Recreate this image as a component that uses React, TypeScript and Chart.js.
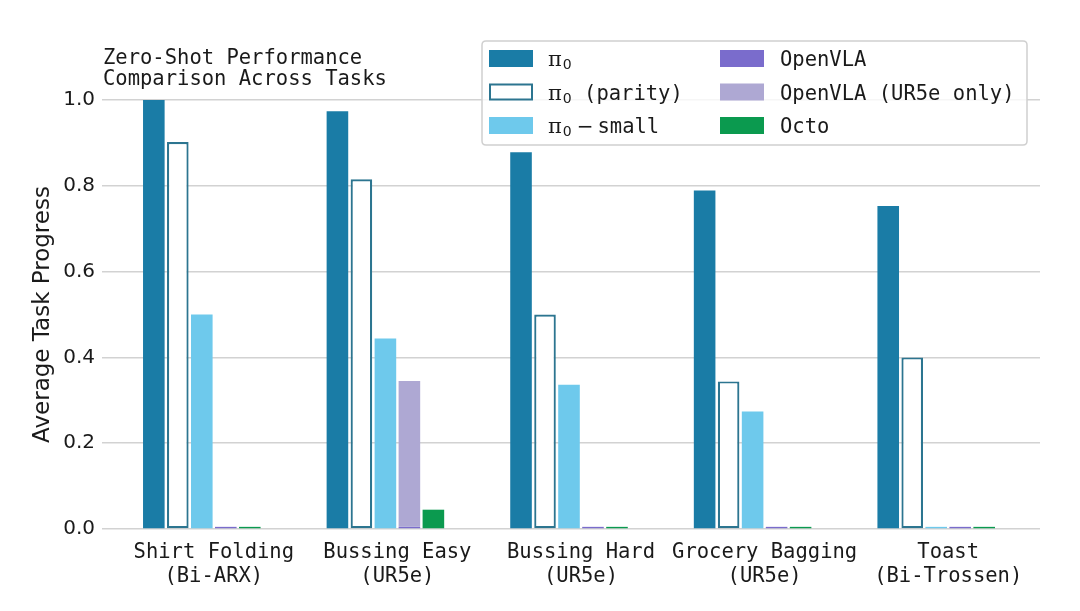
import React, { useEffect, useRef } from "react";
import { Chart, registerables } from "chart.js";

Chart.register(...registerables);

// ---------- data ----------
const categories: string[][] = [
  ["Shirt Folding", "(Bi-ARX)"],
  ["Bussing Easy", "(UR5e)"],
  ["Bussing Hard", "(UR5e)"],
  ["Grocery Bagging", "(UR5e)"],
  ["Toast", "(Bi-Trossen)"],
];
const seriesLabels = ["π0", "π0 (parity)", "π0 − small", "OpenVLA", "OpenVLA (UR5e only)", "Octo"];
const pi0 = [1.0, 0.974, 0.878, 0.789, 0.753];
const pi0Parity = [0.902, 0.815, 0.5, 0.344, 0.4];
const pi0Small = [0.5, 0.444, 0.336, 0.274, 0.005];
const openVLA = [0.005, 0.005, 0.005, 0.005, 0.005];
const openVLAUR5e = [null, 0.34, null, null, null];
const octo = [0.005, 0.045, 0.005, 0.005, 0.005];
const yTicks = [0, 0.2, 0.4, 0.6, 0.8, 1.0];
const titleLines = ["Zero-Shot Performance", "Comparison Across Tasks"];
const yAxisTitle = "Average Task Progress";

// ---------- styles ----------
const C_PI0 = "#1a7ca6";
const C_PARITY_EDGE = "#2c7590";
const C_SMALL = "#6ec9ec";
const C_OPENVLA = "#7a6ccc";
const C_UR5E = "#aea8d3";
const C_OCTO = "#0b9a4f";
const MONO = '"DejaVu Sans Mono", monospace';
const SANS = '"DejaVu Sans", sans-serif';
const TEXT = "#1a1a1a";
const GRID = "#d2d2d2";

const legendItems = [
  { label: seriesLabels[0], fill: C_PI0, edge: null as string | null },
  { label: seriesLabels[1], fill: "#ffffff", edge: C_PARITY_EDGE },
  { label: seriesLabels[2], fill: C_SMALL, edge: null },
  { label: seriesLabels[3], fill: C_OPENVLA, edge: null },
  { label: seriesLabels[4], fill: C_UR5E, edge: null },
  { label: seriesLabels[5], fill: C_OCTO, edge: null },
];

function drawLabel(ctx: CanvasRenderingContext2D, label: string, x: number, y: number) {
  ctx.fillStyle = TEXT;
  ctx.textAlign = "left";
  ctx.textBaseline = "alphabetic";
  let cx = x;
  let rest = label;
  if (label.startsWith("π0")) {
    ctx.font = '21px "DejaVu Serif", serif';
    ctx.fillText("π", cx, y);
    cx += ctx.measureText("π").width + 1;
    ctx.font = `14px ${SANS}`;
    ctx.fillText("0", cx, y + 3);
    cx += ctx.measureText("0").width;
    rest = label.slice(2);
    if (rest.startsWith(" − ")) {
      cx += 5;
      ctx.font = `20px ${SANS}`;
      ctx.fillText("−", cx, y);
      cx += ctx.measureText("−").width + 4;
      rest = rest.slice(3);
    }
  }
  ctx.font = `20.5px ${MONO}`;
  ctx.fillText(rest, cx, y);
}

const overlayPlugin = {
  id: "overlay",
  afterDraw(chart: any) {
    const ctx: CanvasRenderingContext2D = chart.ctx;
    ctx.save();
    // title
    ctx.fillStyle = TEXT;
    ctx.font = `20.5px ${MONO}`;
    ctx.textAlign = "left";
    ctx.textBaseline = "alphabetic";
    ctx.fillText(titleLines[0], 103, 63.5);
    ctx.fillText(titleLines[1], 103, 85);

    // legend box
    const bx = 482, by = 41, bw = 545, bh = 104, r = 4;
    ctx.beginPath();
    ctx.moveTo(bx + r, by);
    ctx.lineTo(bx + bw - r, by);
    ctx.quadraticCurveTo(bx + bw, by, bx + bw, by + r);
    ctx.lineTo(bx + bw, by + bh - r);
    ctx.quadraticCurveTo(bx + bw, by + bh, bx + bw - r, by + bh);
    ctx.lineTo(bx + r, by + bh);
    ctx.quadraticCurveTo(bx, by + bh, bx, by + bh - r);
    ctx.lineTo(bx, by + r);
    ctx.quadraticCurveTo(bx, by, bx + r, by);
    ctx.closePath();
    ctx.fillStyle = "rgba(255,255,255,0.8)";
    ctx.fill();
    ctx.strokeStyle = "#d0d0d0";
    ctx.lineWidth = 1.5;
    ctx.stroke();

    const baselines = [66, 99.5, 133];
    const colSwatch = [489, 720];
    const colText = [548, 780];
    legendItems.forEach((it, i) => {
      const col = Math.floor(i / 3);
      const row = i % 3;
      const sx = colSwatch[col];
      const sy = baselines[row] - 16;
      ctx.fillStyle = it.fill;
      ctx.fillRect(sx, sy, 44, 17);
      if (it.edge) {
        ctx.strokeStyle = it.edge;
        ctx.lineWidth = 2;
        ctx.strokeRect(sx + 1, sy + 1, 42, 15);
      }
      drawLabel(ctx, it.label, colText[col], baselines[row]);
    });
    ctx.restore();
  },
};

export default function App() {
  const ref = useRef<HTMLCanvasElement | null>(null);
  useEffect(() => {
    document.body.style.margin = "0";
    const canvas = ref.current!;
    const common = { barPercentage: 0.9, categoryPercentage: 0.784 };
    const chart = new Chart(canvas, {
      type: "bar",
      data: {
        labels: categories as any,
        datasets: [
          { label: seriesLabels[0], data: pi0, backgroundColor: C_PI0, stack: "s0", ...common },
          {
            label: seriesLabels[1],
            data: pi0Parity,
            backgroundColor: "#ffffff",
            borderColor: C_PARITY_EDGE,
            borderWidth: 2.2,
            borderSkipped: false,
            stack: "s1",
            ...common,
          },
          { label: seriesLabels[2], data: pi0Small, backgroundColor: C_SMALL, stack: "s2", ...common },
          { label: seriesLabels[3], data: openVLA, backgroundColor: C_OPENVLA, stack: "s3", ...common },
          { label: seriesLabels[4], data: openVLAUR5e as any, backgroundColor: C_UR5E, stack: "s3", ...common },
          { label: seriesLabels[5], data: octo, backgroundColor: C_OCTO, stack: "s4", ...common },
          { label: "", data: [null, null, null, null, null] as any, backgroundColor: "rgba(0,0,0,0)", stack: "s5", ...common },
        ] as any,
      },
      options: {
        responsive: false,
        animation: false,
        devicePixelRatio: 1,
        layout: { padding: { left: 0, top: 100, right: 40, bottom: 0 } },
        plugins: { legend: { display: false }, tooltip: { enabled: false }, title: { display: false } },
        scales: {
          x: {
            stacked: true,
            grid: { display: false, drawTicks: false },
            border: { display: false },
            ticks: {
              font: { family: MONO, size: 20.5, lineHeight: 1.17 },
              color: TEXT,
              padding: 12,
              maxRotation: 0,
              autoSkip: false,
            },
            afterFit: (s: any) => {
              s.height = 82;
            },
          },
          y: {
            stacked: true,
            min: 0,
            max: 1.0,
            afterBuildTicks: (s: any) => {
              s.ticks = yTicks.map((v) => ({ value: v }));
            },
            grid: { color: GRID, lineWidth: 1.5, tickLength: 20, tickColor: GRID, drawTicks: true },
            border: { display: false },
            ticks: {
              font: { family: SANS, size: 20 },
              color: TEXT,
              padding: 7,
              callback: (v: any) => Number(v).toFixed(1),
            },
            title: {
              display: true,
              text: yAxisTitle,
              font: { family: SANS, size: 23 },
              color: TEXT,
              padding: { top: 29, bottom: 0 },
            },
            afterFit: (s: any) => {
              s.width = 122;
            },
          },
        },
      } as any,
      plugins: [overlayPlugin],
    });
    return () => chart.destroy();
  }, []);
  return (
    <div style={{ position: "absolute", left: 0, top: 0, width: 1080, height: 611, background: "#fff" }}>
      <canvas ref={ref} width={1080} height={611} style={{ display: "block", width: 1080, height: 611 }} />
    </div>
  );
}
